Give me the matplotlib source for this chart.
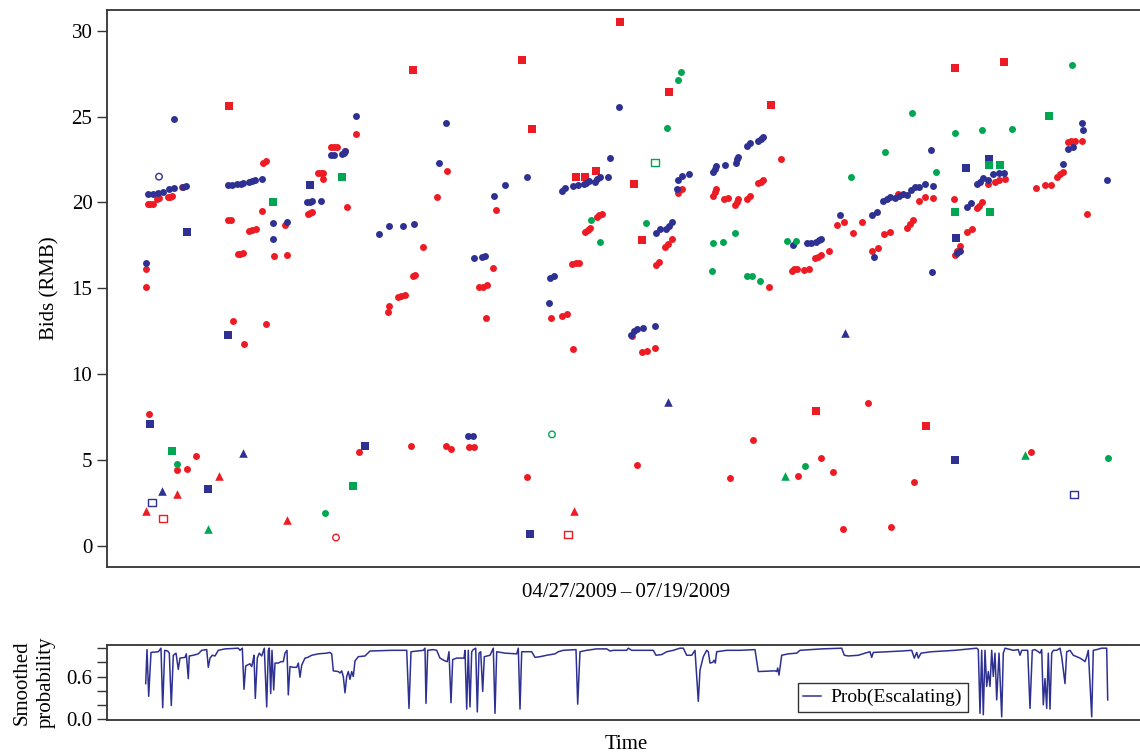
import matplotlib
matplotlib.use("Agg")
import matplotlib.pyplot as plt
import numpy as np

plt.rcParams['font.family'] = ['Liberation Serif', 'DejaVu Serif']
plt.rcParams['font.size'] = 15

RED = '#ED1C24'
BLUE = '#2E3192'
GREEN = '#00A651'
FRAME = '#333333'

# bids: (time index, bid in RMB)
red_dots = [(1, 16.1), (1, 15.1), (3, 19.9), (5, 19.9), (8, 19.9), (12, 20.2), (14, 20.25), (23, 20.3), (25, 20.3),
            (27, 20.35), (37, 20.9), (83, 18.95), (86, 19.0), (93, 17.0), (95, 17.0), (98, 17.05), (104, 18.35),
            (107, 18.4), (111, 18.45), (117, 19.5), (118, 22.3), (121, 22.4), (129, 16.9), (140, 18.7), (142, 16.95),
            (163, 19.35), (165, 19.4), (167, 19.45), (173, 21.7), (176, 21.7), (178, 21.7), (178, 21.35), (186, 23.2),
            (189, 23.2), (192, 23.2), (200, 23.0), (202, 19.75), (211, 24.0), (88, 13.1), (99, 11.75), (121, 12.95),
            (4, 7.7), (32, 4.45), (42, 4.5), (51, 5.25), (214, 5.5), (253, 14.5), (256, 14.55), (260, 14.6),
            (268, 15.7), (270, 15.8), (278, 17.4), (302, 21.85), (292, 20.3), (244, 13.95), (243, 13.6), (334, 15.05),
            (338, 15.1), (342, 15.2), (341, 13.3), (348, 16.2), (351, 19.55), (406, 13.3), (417, 13.4), (422, 13.5),
            (428, 11.45), (427, 16.4), (431, 16.45), (434, 16.5), (440, 18.3), (443, 18.4), (445, 18.5), (452, 19.15),
            (454, 19.25), (457, 19.35), (487, 12.2), (497, 11.3), (502, 11.35), (510, 11.5), (511, 16.35),
            (514, 16.55), (520, 17.4), (523, 17.6), (527, 17.85), (533, 20.55), (537, 20.8), (568, 20.4), (570, 20.6),
            (571, 20.8), (579, 20.2), (583, 20.25), (590, 19.85), (592, 20.0), (593, 20.2), (602, 20.2), (605, 20.4),
            (613, 21.15), (266, 5.85), (301, 5.85), (306, 5.65), (324, 5.75), (329, 5.75), (382, 4.0), (492, 4.7),
            (585, 3.95), (608, 6.15), (616, 21.2), (618, 21.3), (636, 22.55), (624, 15.1), (647, 16.0), (649, 16.1),
            (652, 16.15), (659, 16.05), (664, 16.1), (670, 16.75), (673, 16.85), (676, 16.95), (684, 17.15),
            (692, 18.7), (699, 18.85), (708, 18.2), (717, 18.85), (727, 17.2), (733, 17.35), (739, 18.15), (745, 18.3),
            (753, 20.5), (762, 18.5), (765, 18.75), (768, 19.0), (774, 20.1), (780, 20.3), (788, 20.25), (809, 20.2),
            (810, 16.95), (812, 17.2), (815, 17.45), (822, 18.3), (827, 18.45), (832, 19.65), (834, 19.8), (837, 20.0),
            (843, 21.1), (850, 21.2), (854, 21.3), (860, 21.35), (891, 20.85), (900, 21.0), (906, 21.0), (912, 21.5),
            (915, 21.65), (918, 21.8), (923, 23.5), (926, 23.55), (930, 23.6), (937, 23.55), (942, 19.3), (723, 8.3),
            (886, 5.5), (676, 5.15), (653, 4.1), (688, 4.3), (769, 3.75), (698, 1.0), (746, 1.1)]
blue_dots = [(1, 16.5), (3, 20.5), (8, 20.5), (13, 20.55), (18, 20.6), (24, 20.8), (29, 20.85), (38, 20.9), (41, 20.95),
             (29, 24.85), (83, 21.0), (87, 21.0), (92, 21.1), (96, 21.1), (98, 21.15), (104, 21.2), (107, 21.25),
             (110, 21.3), (117, 21.35), (128, 18.8), (128, 17.85), (142, 18.85), (162, 20.0), (165, 20.05), (167, 20.1),
             (176, 20.1), (186, 22.75), (189, 22.75), (197, 22.8), (199, 22.9), (200, 23.0), (211, 25.05), (234, 18.15),
             (244, 18.6), (258, 18.65), (269, 18.75), (294, 22.3), (301, 24.65), (329, 16.75), (337, 16.8), (340, 16.9),
             (349, 20.35), (360, 21.0), (382, 21.5), (405, 15.6), (409, 15.7), (404, 14.15), (417, 20.65), (420, 20.85),
             (428, 20.95), (433, 21.0), (439, 21.05), (441, 21.15), (444, 21.25), (450, 21.2), (452, 21.35), (455, 21.5),
             (463, 21.5), (465, 22.6), (474, 25.55), (486, 12.3), (489, 12.5), (492, 12.65), (498, 12.7), (510, 12.8),
             (511, 18.25), (515, 18.45), (521, 18.45), (524, 18.65), (527, 18.85), (532, 20.8), (533, 21.3),
             (537, 21.55), (544, 21.65), (568, 21.75), (570, 21.95), (571, 22.1), (580, 22.15), (591, 22.3), (592, 22.5),
             (593, 22.65), (602, 23.3), (605, 23.45), (613, 23.6), (616, 23.7), (618, 23.8), (323, 6.4), (328, 6.4),
             (648, 17.55), (662, 17.65), (666, 17.65), (671, 17.7), (674, 17.8), (676, 17.85), (695, 19.25),
             (727, 19.25), (732, 19.45), (729, 16.8), (738, 20.1), (742, 20.2), (745, 20.3), (750, 20.25), (754, 20.4),
             (758, 20.5), (762, 20.45), (766, 20.7), (770, 20.9), (774, 20.9), (780, 21.05), (786, 23.05), (788, 20.95),
             (787, 15.95), (812, 17.05), (815, 17.15), (822, 19.75), (826, 19.95), (832, 21.05), (835, 21.2),
             (838, 21.4), (843, 21.3), (848, 21.65), (854, 21.7), (859, 21.7), (918, 22.25), (923, 23.1), (928, 23.25),
             (937, 24.65), (938, 24.2), (962, 21.3)]
green_dots = [(32, 4.75), (180, 1.9), (446, 18.95), (455, 17.7), (501, 18.8), (522, 24.35), (533, 27.1), (536, 27.6),
              (567, 16.0), (568, 17.65), (578, 17.7), (590, 18.25), (602, 15.7), (607, 15.7), (615, 15.4), (642, 17.75),
              (651, 17.75), (706, 21.5), (740, 22.95), (767, 25.2), (810, 24.05), (837, 24.2), (867, 24.3),
              (791, 21.75), (927, 28.0), (660, 4.65), (963, 5.1)]
red_squares = [(84, 25.6), (268, 27.7), (377, 28.3), (387, 24.25), (431, 21.5), (440, 21.5), (451, 21.85), (475, 30.5),
               (489, 21.1), (497, 17.8), (524, 26.45), (626, 25.7), (810, 27.85), (859, 28.2), (671, 7.85), (781, 7.0)]
blue_squares = [(42, 18.3), (83, 12.3), (5, 7.1), (63, 3.35), (165, 21.0), (220, 5.8), (385, 0.7), (810, 5.0),
                (811, 17.95), (821, 22.0), (844, 22.55)]
green_squares = [(27, 5.55), (128, 20.0), (197, 21.5), (208, 3.5), (844, 22.2), (855, 22.2), (810, 19.45),
                 (845, 19.45), (904, 25.05)]
red_tri = [(1, 2.05), (32, 3.05), (74, 4.05), (142, 1.5), (429, 2.05)]
blue_tri = [(17, 3.2), (98, 5.4), (523, 8.4), (700, 12.4)]
green_tri = [(63, 1.0), (640, 4.1), (880, 5.3)]
red_open_circ = [(191, 0.5)]
blue_open_circ = [(14, 21.5)]
green_open_circ = [(407, 6.5)]
red_open_sq = [(18, 1.6), (423, 0.7)]
blue_open_sq = [(7, 2.55), (929, 3.0)]
green_open_sq = [(510, 22.35)]

# smoothed probability of the escalating regime
prob_t = [0.7, 2, 3.7, 6, 13.3, 16, 17.7, 19.7, 22.7, 24.3, 26.3, 28.3, 31, 33.3, 35, 40, 41.3, 43.3, 44.3, 48.3,
          53.3, 56.7, 61.7, 63.3, 65, 67.3, 70, 73.3, 80, 93.3, 95, 97.3, 99, 100.7, 105, 106.7, 107.7, 109, 110.3,
          112.3, 114.3, 116.7, 119.3, 121.7, 123.3, 124.3, 125.7, 127, 128.7, 130, 133.3, 136, 138.3, 140, 142,
          143.3, 145, 148.3, 151.7, 153.3, 155, 156.7, 160, 162.7, 166.7, 173.3, 181.7, 185, 186.7, 188.3, 193.3,
          195, 196.7, 198.3, 200, 201.7, 203.3, 205, 206.7, 208.3, 210, 213.3, 220, 225, 246.7, 261.7, 264, 266,
          278.3, 280, 281, 282.7, 288.3, 291.7, 295, 300, 302.3, 304, 306, 307.7, 311.7, 319, 320, 321.7, 323.3,
          325, 326.7, 328.3, 330.7, 332.3, 334, 335.7, 337.7, 339.3, 345, 348.3, 350, 351.7, 360, 371.7, 373.3, 375,
          376.7, 386.7, 390, 395, 401.7, 410, 413.3, 418.3, 431, 432.7, 435, 441.7, 451.7, 461.7, 465, 468.3, 481.7,
          483.3, 486.7, 508.3, 511, 516.7, 521.7, 528.3, 535, 538.3, 541.7, 546.7, 550, 553.3, 555, 558.3, 561.7,
          563.3, 565, 567.7, 569, 570.3, 571.7, 581.7, 595, 610, 613.3, 630, 631.7, 632.7, 634, 636.7, 643.3, 651.7,
          655, 676.7, 696.7, 699.3, 703.3, 713.3, 720, 725, 726.7, 728.3, 743.3, 756.7, 766.7, 769.3, 771.7, 773.3,
          776, 786.7, 810, 831.7, 833.3, 835, 836.7, 838.3, 840, 841.7, 843.3, 845, 846.7, 848.3, 850, 851.7, 854,
          856.7, 858.3, 860, 868.3, 873.3, 875, 876.7, 882.7, 885, 887.3, 890, 893.3, 895, 896.7, 898.3, 900, 901.7,
          903.3, 905, 906.7, 908.3, 911.7, 915, 916.7, 920, 921.7, 925, 928.3, 931.7, 935, 938.3, 940, 941.7, 943.3,
          946.7, 948.3, 951.7, 956.7, 961.7, 962.7]
prob_val = [0.50, 0.98, 0.32, 0.94, 0.95, 1.0, 0.16, 0.97, 0.96, 0.93, 0.19, 0.90, 0.93, 0.70, 0.86, 0.87, 0.92, 0.57,
            0.89, 0.90, 0.92, 0.97, 0.98, 0.73, 0.86, 0.90, 0.89, 0.97, 0.99, 1.0, 0.97, 1.0, 0.42, 0.75, 0.78, 0.74,
            0.80, 0.90, 0.29, 0.86, 0.93, 0.89, 1.0, 0.17, 0.97, 1.0, 0.36, 0.97, 0.41, 0.79, 0.79, 0.81, 0.81, 0.93,
            0.97, 0.34, 0.74, 0.73, 0.73, 0.79, 0.59, 0.76, 0.86, 0.87, 0.90, 0.92, 0.93, 0.94, 0.92, 0.68, 0.67, 0.65,
            0.68, 0.60, 0.37, 0.60, 0.67, 0.56, 0.67, 0.60, 0.82, 0.88, 0.89, 0.96, 0.97, 0.97, 0.15, 0.95, 0.97, 1.0,
            0.22, 0.97, 0.98, 0.97, 0.86, 0.82, 0.81, 0.95, 0.23, 0.84, 0.86, 0.86, 0.97, 0.14, 0.97, 0.17, 0.95, 0.98,
            1.0, 0.10, 0.93, 0.95, 0.39, 0.88, 0.90, 1.0, 0.08, 0.95, 0.93, 0.92, 1.0, 0.14, 0.95, 0.95, 0.87, 0.88,
            0.90, 0.92, 0.95, 0.97, 0.98, 0.21, 0.95, 0.97, 0.99, 0.99, 0.96, 0.97, 0.97, 1.0, 0.97, 0.97, 0.90, 0.91,
            0.95, 0.97, 1.0, 1.0, 0.90, 0.90, 0.97, 0.25, 0.69, 0.88, 0.97, 0.95, 0.79, 0.80, 0.83, 0.79, 0.95, 0.97,
            0.97, 0.98, 0.67, 0.68, 0.67, 0.72, 0.62, 0.90, 0.92, 0.93, 0.97, 0.99, 1.0, 0.90, 0.89, 0.90, 0.93, 0.95,
            0.87, 0.94, 0.95, 0.96, 0.97, 0.86, 0.94, 0.86, 0.93, 0.95, 0.97, 1.0, 0.98, 0.08, 0.97, 0.06, 0.97, 0.46,
            0.67, 0.46, 0.97, 0.60, 0.93, 0.27, 0.93, 0.03, 0.93, 1.0, 0.97, 0.98, 0.90, 0.97, 0.97, 0.15, 0.97, 0.98,
            0.95, 0.93, 0.98, 0.20, 0.57, 0.15, 0.93, 0.14, 0.93, 0.97, 0.97, 1.0, 0.88, 0.50, 0.95, 0.97, 0.90, 0.88,
            0.86, 0.83, 0.81, 0.88, 0.97, 0.03, 0.97, 0.98, 1.0, 1.0, 0.27]


def draw(ax, pts, color, marker, size, filled=True):
    pts = np.array(pts, dtype=float)
    if filled:
        ax.scatter(pts[:, 0], pts[:, 1], s=size, c=color, marker=marker, linewidths=0)
    else:
        ax.scatter(pts[:, 0], pts[:, 1], s=size, facecolors='none', edgecolors=color,
                   marker=marker, linewidths=1.0)


def frame(ax):
    ax.spines['right'].set_visible(False)
    for side in ['left', 'top', 'bottom']:
        ax.spines[side].set_color(FRAME)
        ax.spines[side].set_linewidth(1.3)
    ax.set_xticks([])
    ax.tick_params(axis='y', direction='out', length=7.5, width=1.0, color=FRAME, pad=3, labelsize=15)


fig = plt.figure(figsize=(11.4, 7.52), dpi=100)
W, H = 1140.0, 752.0
ax = fig.add_axes([107 / W, 1 - 566.7 / H, (1145 - 107) / W, (566.7 - 10) / H])
ax2 = fig.add_axes([107 / W, 1 - 719.7 / H, (1145 - 107) / W, (719.7 - 645) / H])

draw(ax, red_dots, RED, 'o', 25)
draw(ax, red_squares, RED, 's', 30)
draw(ax, red_tri, RED, '^', 38)
draw(ax, red_open_circ, RED, 'o', 22, filled=False)
draw(ax, red_open_sq, RED, 's', 26, filled=False)
draw(ax, blue_dots, BLUE, 'o', 25)
draw(ax, blue_squares, BLUE, 's', 30)
draw(ax, blue_tri, BLUE, '^', 38)
draw(ax, blue_open_circ, BLUE, 'o', 22, filled=False)
draw(ax, blue_open_sq, BLUE, 's', 26, filled=False)
draw(ax, green_dots, GREEN, 'o', 25)
draw(ax, green_squares, GREEN, 's', 30)
draw(ax, green_tri, GREEN, '^', 38)
draw(ax, green_open_circ, GREEN, 'o', 22, filled=False)
draw(ax, green_open_sq, GREEN, 's', 26, filled=False)

ax.set_xlim(-38, 1000)
ax.set_ylim(-1.2, 31.2)
ax.set_yticks([0, 5, 10, 15, 20, 25, 30])
frame(ax)
ax.set_ylabel('Bids (RMB)', fontsize=15, labelpad=9)
ax.set_xlabel('04/27/2009\u2009\u2013\u200907/19/2009', fontsize=15, labelpad=12)

ax2.plot(prob_t, prob_val, color=BLUE, lw=1.1, label='Prob(Escalating)')
ax2.set_xlim(-38, 1000)
ax2.set_ylim(-0.01, 1.045)
ax2.set_yticks([0, 0.2, 0.4, 0.6, 0.8, 1.0])
ax2.set_yticklabels(['0.0', '', '', '0.6', '', ''])
frame(ax2)
ax2.set_ylabel('Smoothed\nprobability', fontsize=15, labelpad=8, linespacing=1.3)
ax2.set_xlabel('Time', fontsize=15, labelpad=11)
leg = ax2.legend(loc='lower right', bbox_to_anchor=(0.8295, 0.10), fontsize=14, frameon=True, fancybox=False,
                 handlelength=0.9, handletextpad=0.5, borderpad=0.3, borderaxespad=0)
leg.get_frame().set_edgecolor('black')
leg.get_frame().set_linewidth(1.0)

fig.savefig('out.png', dpi=100)
